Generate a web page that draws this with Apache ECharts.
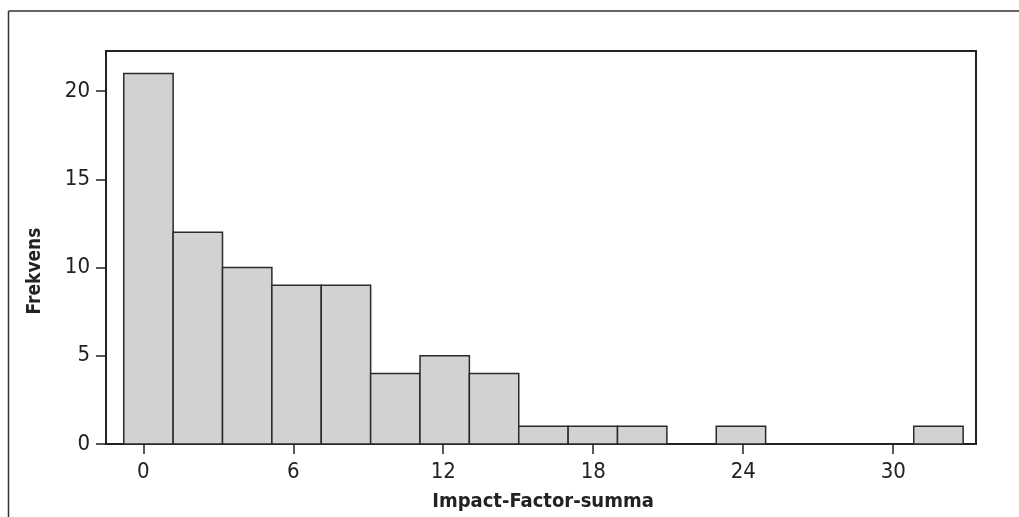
<!DOCTYPE html>
<html><head><meta charset="utf-8">
<script src="https://cdn.jsdelivr.net/npm/echarts@6/dist/echarts.min.js"></script>
<style>html,body{margin:0;padding:0;background:#fff}#c{width:1019px;height:517px}</style>
</head><body><div id="c"></div>
<script>
// histogram bins (left edges) and counts
const binLeft = [-0.78, 1.195, 3.17, 5.145, 7.12, 9.095, 11.07, 13.045, 15.02, 16.995, 18.97, 20.945, 22.92, 24.895, 26.87, 28.845, 30.82];
const binRight = [1.195, 3.17, 5.145, 7.12, 9.095, 11.07, 13.045, 15.02, 16.995, 18.97, 20.945, 22.92, 24.895, 26.87, 28.845, 30.82, 32.795];
const counts = [21, 12, 10, 9, 9, 4, 5, 4, 1, 1, 1, 0, 1, 0, 0, 0, 1];
const xTicks = [0, 6, 12, 18, 24, 30];
const yTicks = [0, 5, 10, 15, 20];
const xTitle = 'Impact-Factor-summa';
const yTitle = 'Frekvens';

const data = counts.map((c, i) => [binLeft[i], binRight[i], c]);
const FONT = '"DejaVu Sans Condensed", "Liberation Sans Narrow", sans-serif';
const chart = echarts.init(document.getElementById('c'));
chart.setOption({
  animation: false,
  grid: {left: 106, top: 51, right: 43, bottom: 73, show: true, borderColor: '#222', borderWidth: 2, backgroundColor: 'transparent'},
  xAxis: {
    type: 'value', min: -1.49, max: 33.31,
    axisLine: {show: true, onZero: false, lineStyle: {color: '#222', width: 2}},
    axisTick: {show: true, length: 10, lineStyle: {color: '#222', width: 1.5},
      customValues: xTicks},
    axisLabel: {customValues: xTicks, color: '#222', fontFamily: FONT, fontSize: 22, margin: 17},
    splitLine: {show: false}
  },
  yAxis: {
    type: 'value', min: 0, max: 22.27,
    axisLine: {show: true, onZero: false, lineStyle: {color: '#222', width: 2}},
    axisTick: {show: true, length: 10, lineStyle: {color: '#222', width: 1.5}, customValues: yTicks},
    axisLabel: {customValues: yTicks, color: '#222', fontFamily: FONT, fontSize: 22, margin: 16},
    splitLine: {show: false}
  },
  graphic: [
    {type: 'line', shape: {x1: 8.5, y1: 11, x2: 1019, y2: 11}, style: {stroke: '#333', lineWidth: 1.5}},
    {type: 'line', shape: {x1: 8.5, y1: 11, x2: 8.5, y2: 517}, style: {stroke: '#333', lineWidth: 1.5}},
    {type: 'text', x: 35, y: 271, rotation: Math.PI / 2,
      style: {text: yTitle, font: 'bold 19px ' + FONT, fill: '#222', textAlign: 'center', textVerticalAlign: 'middle'}},
    {type: 'text', x: 543, y: 502,
      style: {text: xTitle, font: 'bold 20px ' + FONT, fill: '#222', textAlign: 'center', textVerticalAlign: 'middle'}}
  ],
  series: [{
    type: 'custom',
    data: data,
    encode: {x: [0, 1], y: 2},
    renderItem: function (params, api) {
      const p0 = api.coord([api.value(0), 0]);
      const p1 = api.coord([api.value(1), api.value(2)]);
      if (api.value(2) <= 0) return null;
      return {type: 'rect', shape: {x: p0[0], y: p1[1], width: p1[0] - p0[0], height: p0[1] - p1[1]},
        style: {fill: '#d1d2d4', stroke: '#2a2a2a', lineWidth: 1.5}};
    }
  }]
});
</script></body></html>
